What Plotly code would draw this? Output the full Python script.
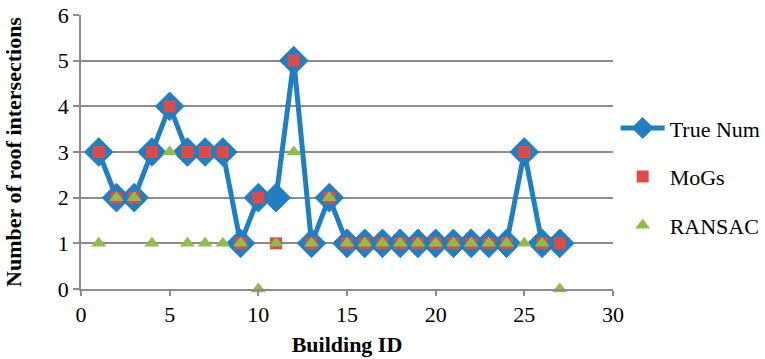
import plotly.graph_objects as go

# Building IDs and roof-intersection counts per method
building_id = list(range(1, 28))
true_num = [3, 2, 2, 3, 4, 3, 3, 3, 1, 2, 2, 5, 1, 2, 1, 1, 1, 1, 1, 1, 1, 1, 1, 1, 3, 1, 1]
mogs     = [3, 2, 2, 3, 4, 3, 3, 3, 1, 2, 1, 5, 1, 2, 1, 1, 1, 1, 1, 1, 1, 1, 1, 1, 3, 1, 1]
ransac   = [1, 2, 2, 1, 3, 1, 1, 1, 1, 0, 1, 3, 1, 2, 1, 1, 1, 1, 1, 1, 1, 1, 1, 1, 1, 1, 0]

x_ticks = [0, 5, 10, 15, 20, 25, 30]
y_ticks = [0, 1, 2, 3, 4, 5, 6]

BLUE = "#1f7fc2"
RED = "#de4c4a"
GREEN = "#8fbd48"
GRID = "#8c8c8c"
FONT = "Liberation Serif"
FS = 22

fig = go.Figure()
fig.add_trace(go.Scatter(
    x=building_id, y=true_num, name="True Num", mode="lines+markers",
    line=dict(color=BLUE, width=5),
    marker=dict(symbol="diamond", size=22, color=BLUE, line=dict(color=BLUE, width=1)),
    legendgroup="a",
))
fig.add_trace(go.Scatter(
    x=building_id, y=mogs, name="MoGs", mode="markers",
    marker=dict(symbol="square", size=12, color=RED),
    legendgroup="b",
))
fig.add_trace(go.Scatter(
    x=building_id, y=ransac, name="RANSAC", mode="markers",
    marker=dict(symbol="triangle-up", size=13, color=GREEN),
    legendgroup="c",
))

fig.update_layout(
    width=765, height=359,
    margin=dict(l=81, r=152, t=15, b=70, autoexpand=False),
    paper_bgcolor="white", plot_bgcolor="white",
    font=dict(family=FONT, size=FS, color="black"),
    legend=dict(
        x=1.005, y=0.41, xanchor="left", yanchor="middle",
        font=dict(family=FONT, size=FS, color="black"),
        tracegroupgap=17, itemwidth=44,
        bgcolor="rgba(0,0,0,0)",
    ),
    xaxis=dict(
        range=[0, 30], tickvals=x_ticks, ticktext=[str(v) for v in x_ticks],
        showgrid=False, zeroline=False, automargin=False,
        showline=True, linecolor=GRID, linewidth=1.5,
        ticks="outside", ticklen=5, tickcolor=GRID, tickwidth=1.5,
        tickfont=dict(family=FONT, size=FS),
        title=dict(text="<b>Building ID</b>", font=dict(family=FONT, size=FS), standoff=10),
    ),
    yaxis=dict(
        range=[0, 6], tickvals=y_ticks, ticktext=[str(v) for v in y_ticks],
        showgrid=True, gridcolor=GRID, gridwidth=1.5, zeroline=False, automargin=False,
        showline=True, linecolor=GRID, linewidth=1.5,
        ticks="outside", ticklen=6, tickcolor=GRID, tickwidth=1.5,
        tickfont=dict(family=FONT, size=FS),
        title=dict(text="<b>Number of roof intersections</b>", font=dict(family=FONT, size=FS), standoff=30),
    ),
)
fig.update_traces(cliponaxis=False)

fig.write_html("out.html")
